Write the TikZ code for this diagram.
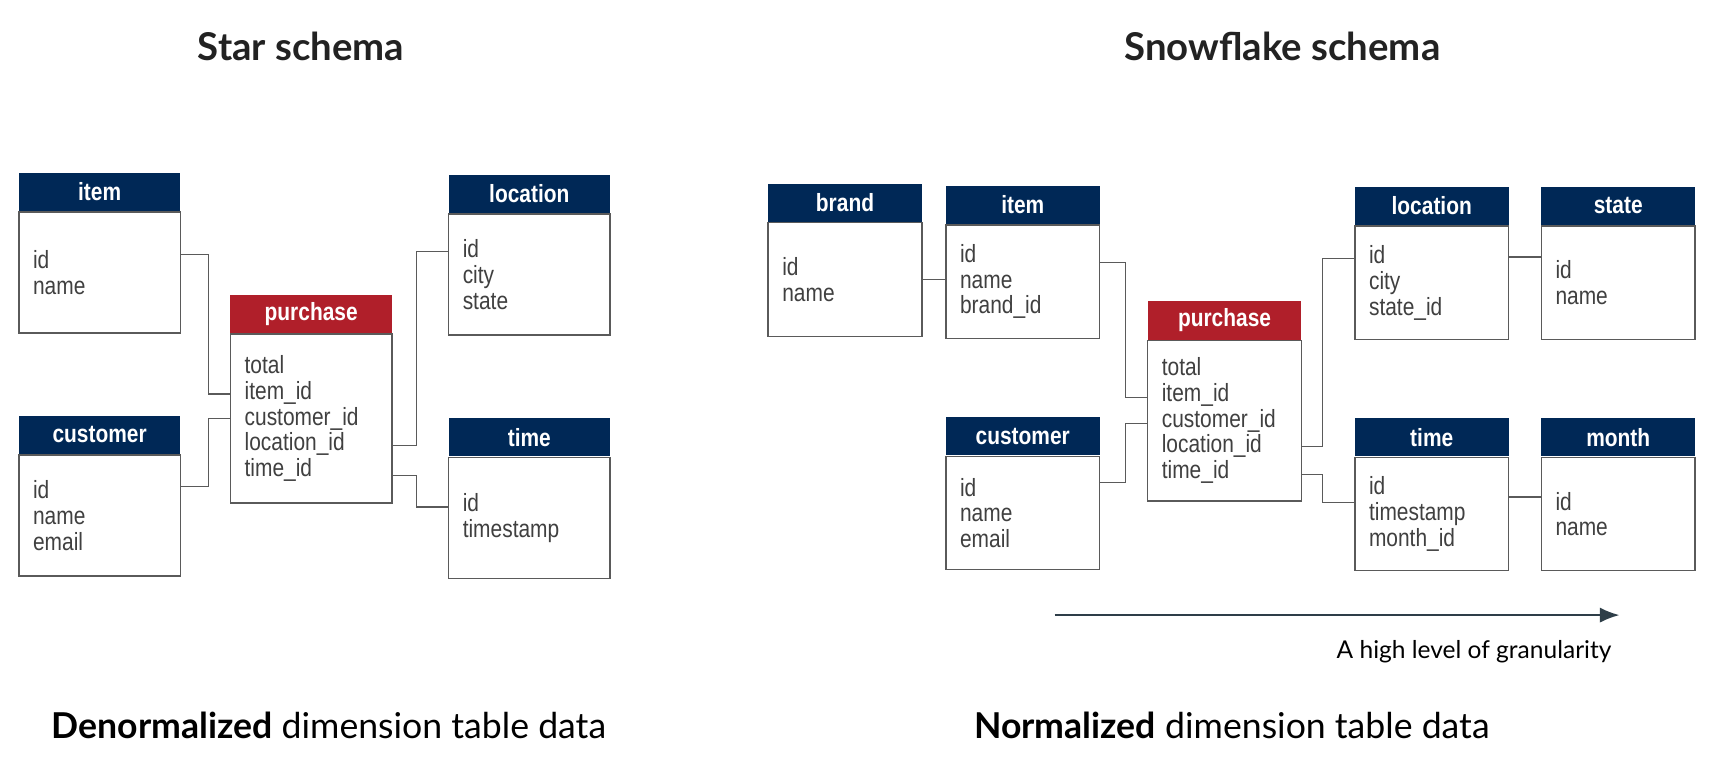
\documentclass[tikz,border=0pt]{standalone}
\usepackage{fontspec}
\setmainfont{Lato}
\newfontfamily\tblfont[FakeStretch=0.84]{Liberation Sans}
\usetikzlibrary{positioning,arrows.meta}

\definecolor{navy}{HTML}{002856}
\definecolor{factred}{HTML}{B01F2A}
\definecolor{boxgray}{HTML}{5A5A5A}
\definecolor{fieldgray}{HTML}{404040}
\definecolor{slate}{HTML}{2E3E48}
\definecolor{inkgray}{HTML}{222222}

\tikzset{
    hdr/.style={fill=navy, text=white, font=\tblfont\bfseries\fontsize{13}{14}\selectfont,
        minimum height=0.7cm, inner sep=0pt, anchor=north west},
    facthdr/.style={hdr, fill=factred},
    body/.style={draw=boxgray, line width=0.7pt, fill=white, align=left, text=fieldgray,
        inner xsep=0.26cm, inner ysep=0pt, font=\tblfont\fontsize{13}{13.4}\selectfont},
    starw/.style={minimum width=2.96cm},
    flakew/.style={minimum width=2.82cm},
    starbody/.style={body, text width=2.44cm, minimum height=2.22cm},
    flakebody/.style={body, text width=2.30cm, minimum height=2.08cm},
    link/.style={draw=boxgray, line width=0.7pt},
    title/.style={font=\bfseries\fontsize{20}{24}\selectfont, text=inkgray},
    caption/.style={font=\fontsize{18.6}{22}\selectfont, text=black, anchor=west, inner xsep=0pt}
}

\begin{document}
\begin{tikzpicture}[x=0.02cm, y=-0.02cm]
    \useasboundingbox (0,0) rectangle (1568,704);

    % star schema
    \node[title] (startitle) at (276,43) {Star schema};

    \node[hdr, starw] (sitemh) at (17,158) {item};
    \node[starbody, below=0pt of sitemh] (sitem) {id\\name};
    \node[hdr, starw] (slocationh) at (411,160) {location};
    \node[starbody, below=0pt of slocationh] (slocation) {id\\city\\state};
    \node[facthdr, starw] (spurchaseh) at (211,270) {purchase};
    \node[starbody, minimum height=3.1cm, below=0pt of spurchaseh] (spurchase) {total\\item\_id\\customer\_id\\location\_id\\time\_id};
    \node[hdr, starw] (scustomerh) at (17,381) {customer};
    \node[starbody, below=0pt of scustomerh] (scustomer) {id\\name\\email};
    \node[hdr, starw] (stimeh) at (411,383) {time};
    \node[starbody, below=0pt of stimeh] (stime) {id\\timestamp};

    \draw[link] ([yshift=0.33cm]sitem.east) -- ++(25,0) |- ([yshift=0.45cm]spurchase.west);
    \draw[link] ([yshift=0.53cm]scustomer.east) -- ++(25,0) |- (spurchase.west);
    \draw[link] ([yshift=-0.49cm]spurchase.east) -- ++(22,0) |- ([yshift=0.42cm]slocation.west);
    \draw[link] ([yshift=-1.05cm]spurchase.east) -- ++(22,0) |- ([yshift=0.2cm]stime.west);

    \node[caption] (stardesc) at (47,665) {\textbf{Denormalized} dimension table data};

    % snowflake schema
    \node[title] (flaketitle) at (1176,43) {Snowflake schema};

    \node[hdr, flakew] (fbrandh) at (704,168) {brand};
    \node[flakebody, below=0pt of fbrandh] (fbrand) {id\\name};
    \node[hdr, flakew] (fitemh) at (867,170) {item};
    \node[flakebody, below=0pt of fitemh] (fitem) {id\\name\\brand\_id};
    \node[facthdr, flakew] (fpurchaseh) at (1052,276) {purchase};
    \node[flakebody, minimum height=2.94cm, below=0pt of fpurchaseh] (fpurchase) {total\\item\_id\\customer\_id\\location\_id\\time\_id};
    \node[hdr, flakew] (fcustomerh) at (867,382) {customer};
    \node[flakebody, below=0pt of fcustomerh] (fcustomer) {id\\name\\email};
    \node[hdr, flakew] (flocationh) at (1242,171) {location};
    \node[flakebody, below=0pt of flocationh] (flocation) {id\\city\\state\_id};
    \node[hdr, flakew] (fstateh) at (1413,171) {state};
    \node[flakebody, below=0pt of fstateh] (fstate) {id\\name};
    \node[hdr, flakew] (ftimeh) at (1242,383) {time};
    \node[flakebody, below=0pt of ftimeh] (ftime) {id\\timestamp\\month\_id};
    \node[hdr, flakew] (fmonthh) at (1413,383) {month};
    \node[flakebody, below=0pt of fmonthh] (fmonth) {id\\name};

    \draw[link] (fbrand.east) -- (fbrand.east -| fitem.west);
    \draw[link] ([yshift=0.35cm]fitem.east) -- ++(23,0) |- ([yshift=0.43cm]fpurchase.west);
    \draw[link] ([yshift=0.56cm]fcustomer.east) -- ++(23,0) |- ([yshift=-0.05cm]fpurchase.west);
    \draw[link] ([yshift=-0.47cm]fpurchase.east) -- ++(19,0) |- ([yshift=0.45cm]flocation.west);
    \draw[link] ([yshift=-0.99cm]fpurchase.east) -- ++(19,0) |- ([yshift=0.21cm]ftime.west);
    \draw[link] ([yshift=0.47cm]flocation.east) coordinate (ls) -- (ls -| fstate.west);
    \draw[link] ([yshift=0.31cm]ftime.east) coordinate (tm) -- (tm -| fmonth.west);

    % granularity arrow
    \coordinate (gstart) at (967,564);
    \coordinate (gend) at (1485,564);
    \draw[slate, line width=1.1pt, -{Latex[length=0.36cm, width=0.28cm]}] (gstart) -- (gend);
    \node[font=\fontsize{12.8}{15}\selectfont, anchor=east, inner xsep=0pt] (glabel) at (1478,598) {A high level of granularity};

    \node[caption] (flakedesc) at (893,665) {\textbf{Normalized} dimension table data};
\end{tikzpicture}
\end{document}
